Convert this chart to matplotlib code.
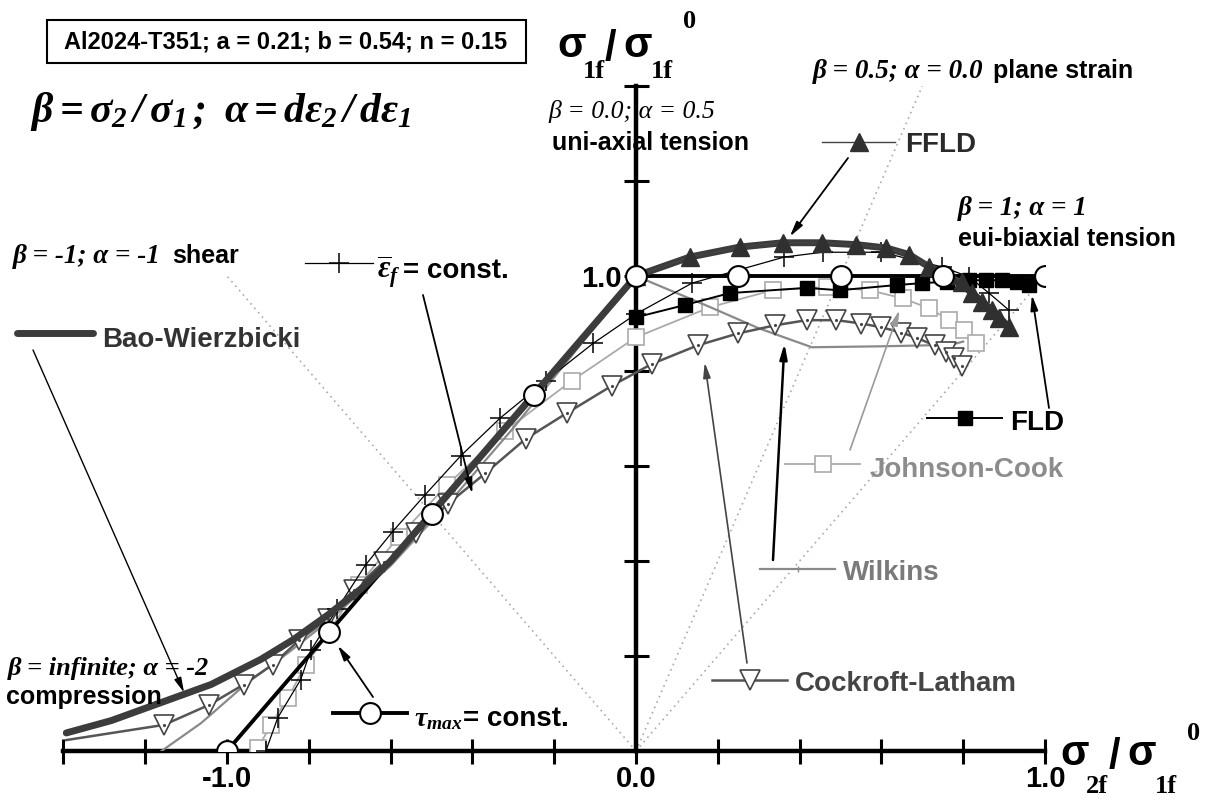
import matplotlib
matplotlib.use('Agg')
import matplotlib.pyplot as plt
from matplotlib.patches import Rectangle

W, H = 1212, 800

plt.rcParams['font.family'] = ['Liberation Sans', 'DejaVu Sans']
plt.rcParams['mathtext.fontset'] = 'custom'
plt.rcParams['mathtext.rm'] = 'Liberation Serif:italic:bold'
plt.rcParams['mathtext.it'] = 'Liberation Serif:italic:bold'
plt.rcParams['mathtext.bf'] = 'Liberation Serif:bold'

# loading paths (dotted): shear, plane strain, equi-biaxial
path_shear_x, path_shear_y = [0.0, -1.0], [0.0, 1.0]
path_plane_x, path_plane_y = [0.0, 0.7], [0.0, 1.4]
path_biax_x, path_biax_y = [0.0, 0.97], [0.0, 0.97]

# tau_max = const. (Tresca)
tresca_x = [-1.0, -0.75, -0.5, -0.25, 0.0, 0.25, 0.5, 0.75, 1.0]
tresca_y = [0.0, 0.25, 0.5, 0.75, 1.0, 1.0, 1.0, 1.0, 1.0]

# Bao-Wierzbicki
bw_x = [-1.393, -1.283, -1.161, -1.039, -0.917, -0.837, -0.754, -0.673, -0.6, -0.5,
        -0.4, -0.3, -0.2, -0.1, 0.0, 0.132, 0.254, 0.359, 0.454, 0.539, 0.612, 0.668,
        0.717, 0.766, 0.822, 0.871, 0.912]
bw_y = [0.038, 0.064, 0.102, 0.14, 0.193, 0.235, 0.286, 0.341, 0.40, 0.50,
        0.60, 0.70, 0.80, 0.90, 1.0, 1.04, 1.061, 1.07, 1.07, 1.066, 1.059, 1.045,
        1.019, 1.002, 0.964, 0.928, 0.892]

# FFLD
ffld_x = [0.0, 0.132, 0.254, 0.359, 0.454, 0.539, 0.612, 0.668, 0.717, 0.766, 0.798,
          0.822, 0.846, 0.871, 0.888, 0.912]
ffld_y = [1.0, 1.04, 1.061, 1.07, 1.07, 1.066, 1.059, 1.045, 1.019, 1.002, 0.987,
          0.964, 0.945, 0.928, 0.911, 0.892]

# equivalent fracture strain = const.
epsf_x = [-0.905, -0.876, -0.82, -0.795, -0.73, -0.661, -0.595, -0.515, -0.429, -0.332,
          -0.22, -0.105, 0.0, 0.137, 0.363, 0.456, 0.60, 0.749, 0.815, 0.863, 0.912]
epsf_y = [0.0, 0.07, 0.15, 0.212, 0.30, 0.392, 0.462, 0.54, 0.621, 0.701,
          0.78, 0.858, 0.92, 0.985, 1.04, 1.05, 1.05, 1.019, 0.998, 0.964, 0.928]

# FLD
fld_x = [0.0, 0.12, 0.229, 0.417, 0.498, 0.637, 0.70, 0.76, 0.815, 0.856, 0.895, 0.932, 0.961]
fld_y = [0.913, 0.939, 0.964, 0.975, 0.970, 0.981, 0.985, 0.988, 0.991, 0.991, 0.991, 0.987, 0.981]

# Johnson-Cook
jc_x = [-0.924, -0.893, -0.851, -0.807, -0.751, -0.678, -0.58, -0.461, -0.32, -0.156,
        0.0, 0.18, 0.334, 0.466, 0.571, 0.652, 0.717, 0.766, 0.802, 0.832]
jc_y = [0.006, 0.055, 0.112, 0.182, 0.25, 0.35, 0.451, 0.561, 0.674, 0.78,
        0.871, 0.934, 0.97, 0.977, 0.97, 0.953, 0.932, 0.907, 0.886, 0.86]

# Wilkins
wilk_x = [-1.16, -1.063, -0.95, -0.85, -0.75, -0.6, -0.45, -0.3, -0.15, 0.0,
          0.18, 0.30, 0.43, 0.60, 0.77, 0.80]
wilk_y = [0.0, 0.059, 0.144, 0.207, 0.275, 0.39, 0.53, 0.68, 0.84, 1.0,
          0.935, 0.89, 0.85, 0.852, 0.855, 0.862]

# Cockroft-Latham
cl_x = [-1.393, -1.154, -1.044, -0.959, -0.888, -0.824, -0.754, -0.69, -0.617, -0.539,
        -0.459, -0.368, -0.27, -0.168, -0.059, 0.039, 0.151, 0.249, 0.339, 0.417,
        0.49, 0.551, 0.60, 0.649, 0.688, 0.73, 0.759, 0.778, 0.798]
cl_y = [0.023, 0.055, 0.097, 0.140, 0.182, 0.233, 0.278, 0.339, 0.398, 0.458,
        0.521, 0.585, 0.657, 0.712, 0.769, 0.815, 0.854, 0.879, 0.896, 0.907,
        0.907, 0.90, 0.892, 0.881, 0.869, 0.854, 0.839, 0.828, 0.811]

x_ticks = [-1.4, -1.2, -1.0, -0.8, -0.6, -0.4, -0.2, 0.0, 0.2, 0.4, 0.6, 0.8, 1.0]
x_labels = ['', '', '-1.0', '', '', '', '', '0.0', '', '', '', '', '1.0']
y_ticks = [0.2, 0.4, 0.6, 0.8, 1.0, 1.2, 1.4]
y_labels = ['', '', '', '', '1.0', '', '']

# styles
st_tresca = dict(color='black', lw=2.8)
st_bw = dict(color='#3c3c3c', lw=5, solid_capstyle='round')
st_ffld = dict(color='#444444', lw=1.0, marker='^', ms=13.5, mfc='#303030', mec='#303030')
st_epsf = dict(color='black', lw=0.9, marker='+', ms=14, mew=1.1)
st_fld = dict(color='black', lw=1.4, marker='s', ms=9.5, mfc='black', mec='black')
st_jc = dict(color='#aaaaaa', lw=1.3, marker='s', ms=11, mfc='white', mec='#aaaaaa', mew=1.2)
st_wilk = dict(color='#8a8a8a', lw=1.6)
st_cl = dict(color='#555555', lw=1.8, marker='v', ms=14, mfc='white', mec='#444444', mew=1.2)
st_dot = dict(color='#aaaaaa', lw=1.2, linestyle=(0, (1, 2.5)))


def fx(px):
    return px / W


def fy(py):
    return 1 - py / H


fig = plt.figure(figsize=(W / 100, H / 100), dpi=100)
ax = fig.add_axes([0, 0, 1, 1])
ax.set_xlim(-636 / 409, (W - 636) / 409)
ax.set_ylim((751 - H) / 475, 751 / 475)
ax.set_facecolor('white')

# axes through the origin
for s in ['top', 'right']:
    ax.spines[s].set_visible(False)
ax.spines['left'].set_position(('data', 0))
ax.spines['bottom'].set_position(('data', 0))
ax.spines['left'].set_bounds(0, 1.4)
ax.spines['bottom'].set_bounds(-1.4, 1.0)
for s in ['left', 'bottom']:
    ax.spines[s].set_linewidth(3.2)
ax.set_xticks(x_ticks)
ax.set_xticklabels(x_labels, fontsize=21, fontweight='bold')
ax.set_yticks(y_ticks)
ax.set_yticklabels(y_labels, fontsize=21, fontweight='bold')
ax.tick_params(direction='inout', length=18, width=2.2, pad=1)

# the original plot is clipped to the positive-sigma1 frame
frame = Rectangle((-1.4, 0.0), 2.4, 1.4, transform=ax.transData)


def curve(x, y, **kw):
    line, = ax.plot(x, y, **kw)
    line.set_clip_path(frame)
    return line


# dotted loading paths
curve(path_shear_x, path_shear_y, zorder=1, **st_dot)
curve(path_plane_x, path_plane_y, zorder=1, **st_dot)
curve(path_biax_x, path_biax_y, zorder=1, **st_dot)

# curves
curve(jc_x, jc_y, zorder=3, **st_jc)
curve(wilk_x, wilk_y, zorder=3, **st_wilk)
curve(cl_x, cl_y, zorder=4, markevery=slice(1, None), **st_cl)
curve(cl_x[1:], cl_y[1:], ls='none', marker='.', ms=2.5, color='#444444', zorder=4)
curve(epsf_x, epsf_y, zorder=5, **st_epsf)
curve(fld_x, fld_y, zorder=5, **st_fld)
curve(tresca_x, tresca_y, zorder=6, **st_tresca)
curve(bw_x, bw_y, zorder=7, **st_bw)
curve(ffld_x, ffld_y, zorder=8, **st_ffld)
curve(tresca_x, tresca_y, ls='none', marker='o', ms=15, mfc='white', mec='black',
      mew=1.5, zorder=9)


def ptext(px, py, s, **kw):
    kw.setdefault('va', 'baseline')
    kw.setdefault('ha', 'left')
    return fig.text(fx(px), fy(py), s, **kw)


def sample(x0, x1, y, style):
    xm = (x0 + x1) / 2
    ax.plot([fx(x0), fx(xm), fx(x1)], [fy(y)] * 3, transform=fig.transFigure,
            clip_on=False, markevery=[1], zorder=10, **style)


# header box
fig.patches.append(Rectangle((fx(47), fy(63)), 479 / W, 43 / H, transform=fig.transFigure,
                             fill=False, edgecolor='black', lw=1.5))
ptext(286, 42, 'Al2024-T351; a = 0.21; b = 0.54; n = 0.15', ha='center', va='center',
      fontsize=17, fontweight='bold')
ptext(30, 122, r'$\beta = \sigma_2\,/\,\sigma_1\,;\ \alpha = d\varepsilon_2\,/\,d\varepsilon_1$',
      fontsize=30)

# axis labels
sig = dict(fontsize=30, fontweight='bold', family='Liberation Sans')
sub = dict(fontsize=19, fontweight='bold', family='Liberation Serif')
ptext(557, 57, 'σ', **sig)
ptext(583, 78, '1f', **sub)
ptext(605, 60, '/', **sig)
ptext(623, 57, 'σ', **sig)
ptext(651, 78, '1f', **sub)
ptext(683, 28, '0', **sub)
ptext(1060, 765, 'σ', **sig)
ptext(1086, 793, '2f', **sub)
ptext(1109, 768, '/', **sig)
ptext(1127, 765, 'σ', **sig)
ptext(1155, 793, '1f', **sub)
ptext(1187, 740, '0', **sub)

# loading path annotations
itl = dict(fontsize=18.5, family='Liberation Serif', style='italic')
itb = dict(fontsize=19.5, family='Liberation Serif', style='italic', fontweight='bold')
bld = dict(fontsize=18, fontweight='bold')
ptext(548, 118, 'β = 0.0; α = 0.5', **itl)
ptext(552, 150, 'uni-axial tension', **bld)
ptext(813, 78, 'β = 0.5; α = 0.0', **itb)
ptext(993, 78, 'plane strain', **bld)
ptext(958, 215, 'β = 1; α = 1', **itb)
ptext(958, 246, 'eui-biaxial tension', **bld)
ptext(13, 263, 'β = -1; α = -1', **itb)
ptext(172, 263, 'shear', **bld)
ptext(8, 675, 'β = infinite; α = -2', **dict(itb, fontsize=19))
ptext(6, 704, 'compression', **bld)

# legend samples and labels
sample(305, 373, 263, st_epsf)
ptext(377, 279, r'$\overline{\varepsilon}_f$', fontsize=22)
ptext(403, 278, '= const.', fontsize=20, fontweight='bold')

sample(17, 93, 333, st_bw)
ptext(102, 347, 'Bao-Wierzbicki', fontsize=20, fontweight='bold', color='#333333')

sample(822, 895, 142, st_ffld)
ptext(905, 152, 'FFLD', fontsize=20, fontweight='bold', color='#2a2a2a')

sample(927, 1002, 418, st_fld)
ptext(1010, 430, 'FLD', fontsize=20, fontweight='bold', color='black')

sample(785, 860, 464, st_jc)
ptext(870, 477, 'Johnson-Cook', fontsize=20, fontweight='bold', color='#8c8c8c')

sample(760, 835, 569, dict(st_wilk, marker='|', ms=5))
ptext(843, 580, 'Wilkins', fontsize=20, fontweight='bold', color='#7a7a7a')

sample(712, 787, 680, st_cl)
ptext(795, 691, 'Cockroft-Latham', fontsize=20, fontweight='bold', color='#444444')

sample(333, 407, 713, dict(st_tresca, marker='o', ms=15, mfc='white', mec='black', mew=1.5))
ptext(414, 726, r'$\tau_{max}$', fontsize=20)
ptext(463, 726, '= const.', fontsize=20, fontweight='bold')

# pointer arrows
arrows = [
    ((-1.105, 0.123), (33, 350), 'black', 1.0),
    ((-0.40, 0.542), (423, 295), 'black', 1.3),
    ((-0.729, 0.222), (373, 697), 'black', 1.3),
    ((0.376, 1.083), (848, 158), 'black', 1.3),
    ((0.968, 0.96), (1049, 408), 'black', 1.3),
    ((0.644, 0.928), (850, 450), '#999999', 1.2),
    ((0.363, 0.858), (773, 560), 'black', 1.8),
    ((0.168, 0.818), (747, 663), '#444444', 1.2),
]
for tip, tail, col, lw in arrows:
    ax.annotate('', xy=tip, xycoords='data', xytext=(fx(tail[0]), fy(tail[1])),
                textcoords='figure fraction',
                arrowprops=dict(arrowstyle='-|>,head_width=0.22,head_length=0.9',
                                color=col, lw=lw, shrinkA=0, shrinkB=0), zorder=11)

fig.savefig('out.png', dpi=100, facecolor='white')
